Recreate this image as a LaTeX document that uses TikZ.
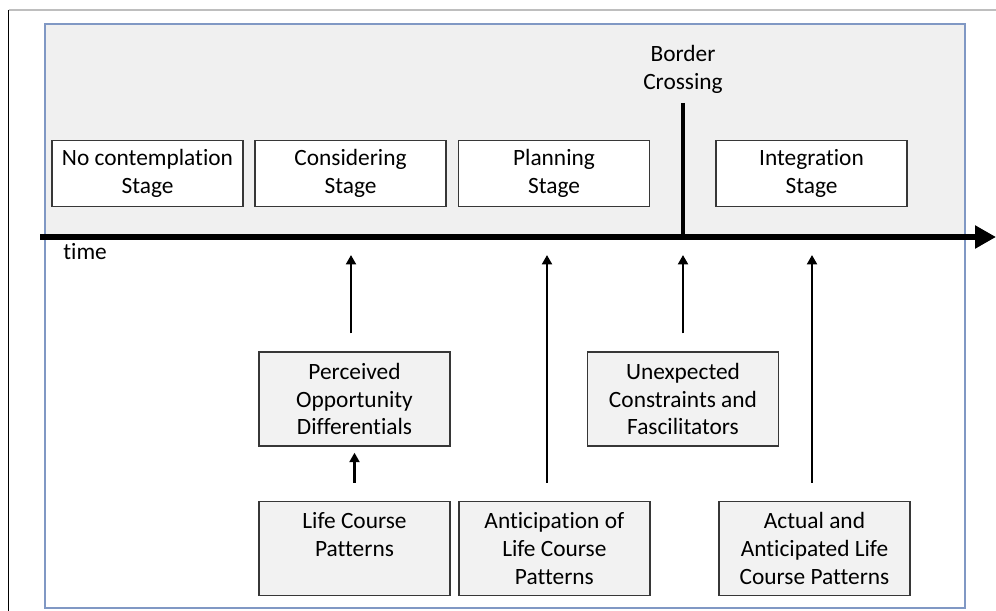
\documentclass[tikz,border=0pt]{standalone}
\usepackage{fontspec}
\setmainfont{Carlito}[Ligatures=NoCommon]
\usepackage{xcolor}
\usepackage{tikz}
\usetikzlibrary{arrows.meta,positioning,calc}
\definecolor{frameblue}{RGB}{128,152,196}
\definecolor{panelgray}{RGB}{240,240,240}
\definecolor{boxgray}{RGB}{242,242,242}
\definecolor{edgegray}{RGB}{55,55,55}
\definecolor{rulegray}{RGB}{190,190,190}
\tikzset{
  stagebox/.style={rectangle, draw=edgegray, line width=0.8pt, fill=white,
                   align=center, font=\fontsize{13.3}{15.9}\selectfont,
                   inner sep=0pt, minimum width=3.82cm, minimum height=1.32cm},
  factorbox/.style={stagebox, fill=boxgray, minimum height=1.88cm},
  lbl/.style={font=\fontsize{13.3}{15.9}\selectfont, align=center, inner sep=0pt},
  arr/.style={-{Triangle[length=1.9mm,width=2mm]}, line width=1.3pt,
              shorten <=0.36cm},
  timeaxis/.style={-{Triangle[length=4.2mm,width=4.4mm]}, line width=3.4pt},
}

\begin{document}
\begin{tikzpicture}[x=0.02cm,y=-0.02cm]
  \useasboundingbox (0,0) rectangle (996,611);
  % page edges
  \draw[rulegray, line width=0.6pt] (8.5,10) -- (996,10);
  \draw[black, line width=0.8pt] (8.5,10) -- (8.5,611);
  % frame: grey stage band on top, white factor area below
  \draw[frameblue, line width=0.8pt, fill=panelgray] (45,24) rectangle (965,237);
  \draw[frameblue, line width=0.8pt] (45,237) rectangle (965,608);
  % stages
  \foreach \n/\x/\t in {1/147.5/{No contemplation\\Stage}, 2/350.5/{Considering\\Stage},
                        3/554/{Planning\\Stage}, 4/811.5/{Integration\\Stage}} {
    \node[stagebox] (st\n) at (\x,173.5) {\t};
  }
  % border crossing
  \node[lbl] (bc) at (683,69) {Border\\Crossing};
  \coordinate (bctop) at (683,103);
  \coordinate (bcfoot) at (683,237);
  \draw[line width=2.8pt] (bctop) -- (bcfoot);
  % time axis
  \coordinate (t0) at (40,237);
  \coordinate (tend) at (996,237);
  \draw[timeaxis] (t0) -- (tend);
  \node[lbl, anchor=west] (time) at (63,252) {time};
  % arrow ends under the axis
  \coordinate (a1) at (351,255);
  \coordinate (a2) at (547,255);
  \coordinate (a3) at (683,255);
  \coordinate (a4) at (812,255);
  % factors
  \node[factorbox] (pod) at (354.5,399) {Perceived\\Opportunity\\Differentials};
  \node[factorbox] (ucf) at (683,399) {Unexpected\\Constraints and\\Fascilitators};
  \node[factorbox] (lcp) at (354.5,548.5) {Life Course\\Patterns\\~};
  \node[factorbox, right=0.15cm of lcp] (acp) {Anticipation of\\Life Course\\Patterns};
  \node[factorbox] (aal) at (814.5,548.5) {Actual and\\Anticipated Life\\Course Patterns};
  % influences
  \draw[arr] (pod.north -| a1) -- (a1);
  \draw[arr] (acp.north -| a2) -- (a2);
  \draw[arr] (ucf.north) -- (a3);
  \draw[arr] (aal.north -| a4) -- (a4);
  \draw[arr, shorten >=0.12cm] (lcp.north) -- (pod.south);
\end{tikzpicture}
\end{document}
